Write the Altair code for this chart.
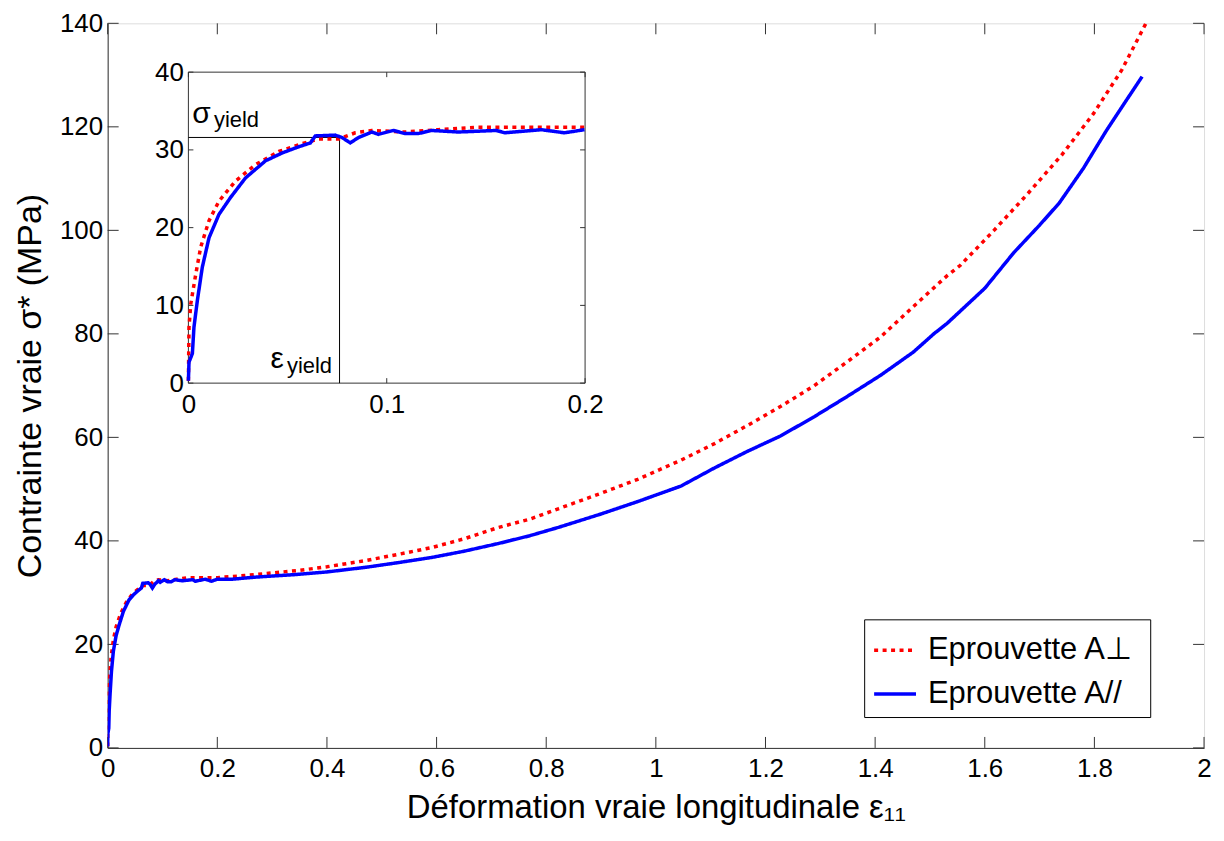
import altair as alt
import pandas as pd

# ---------------- data ----------------
series_names = ["Eprouvette  A⊥", "Eprouvette  A//"]

eps_perp = [0.0, 0.0003, 0.0012, 0.0037, 0.0062, 0.0104, 0.0154, 0.0238, 0.0338, 0.0456,
            0.0573, 0.0657, 0.0757, 0.0841, 0.0925, 0.1092, 0.126, 0.146, 0.1678, 0.1846,
            0.1997, 0.25, 0.349, 0.40, 0.471, 0.53, 0.591, 0.65, 0.713, 0.77,
            0.822, 0.90, 0.967, 1.046, 1.107, 1.167, 1.228, 1.289, 1.349, 1.41,
            1.47, 1.531, 1.555, 1.616, 1.676, 1.74, 1.798, 1.85, 1.894]
sig_perp = [0.3, 7.2, 10.2, 14.0, 17.5, 20.9, 23.4, 26.0, 28.1, 29.8,
            30.8, 31.4, 31.4, 32.2, 32.5, 32.3, 32.6, 32.9, 32.9, 32.9,
            32.9, 33.3, 34.3, 35.0, 36.2, 37.4, 38.7, 40.4, 42.6, 44.2,
            46.2, 49.2, 51.9, 55.6, 58.8, 62.3, 66.0, 70.0, 74.6, 79.4,
            85.3, 91.2, 93.2, 99.9, 106.8, 114.5, 122.5, 131.0, 140.0]

eps_par = [0.0, 0.0003, 0.002, 0.0028, 0.0045, 0.007, 0.0104, 0.0154, 0.0213, 0.0288,
           0.0389, 0.0472, 0.0556, 0.0615, 0.064, 0.074, 0.0774, 0.0816, 0.0858, 0.0925,
           0.0958, 0.1034, 0.1092, 0.1159, 0.1226, 0.136, 0.1553, 0.1595, 0.1779, 0.1896,
           0.1997, 0.227, 0.27, 0.343, 0.40, 0.471, 0.53, 0.591, 0.65, 0.713,
           0.77, 0.822, 0.90, 0.967, 1.046, 1.107, 1.167, 1.228, 1.289, 1.349,
           1.41, 1.47, 1.507, 1.531, 1.60, 1.653, 1.70, 1.736, 1.78, 1.822,
           1.86, 1.887]
sig_par = [0.3, 2.7, 3.8, 7.2, 10.6, 14.9, 18.7, 21.7, 23.9, 26.4,
           28.6, 29.6, 30.4, 30.9, 31.8, 31.9, 31.6, 30.9, 31.6, 32.3,
           32.0, 32.5, 32.1, 32.1, 32.5, 32.3, 32.5, 32.2, 32.6, 32.2,
           32.6, 32.6, 33.0, 33.5, 34.0, 34.9, 35.8, 36.8, 38.0, 39.5,
           41.0, 42.6, 45.2, 47.6, 50.6, 54.1, 57.3, 60.3, 64.0, 67.9,
           72.0, 76.5, 80.0, 82.0, 88.8, 95.7, 101.0, 105.3, 112.0, 119.3,
           125.4, 129.7]

x_ticks_main = [0, 0.2, 0.4, 0.6, 0.8, 1, 1.2, 1.4, 1.6, 1.8, 2]
y_ticks_main = [0, 20, 40, 60, 80, 100, 120, 140]
x_ticks_inset = [0, 0.1, 0.2]
y_ticks_inset = [0, 10, 20, 30, 40]

eps_yield = 0.0762
sig_yield = 31.6

# annotation texts in the inset (data coordinates of the inset)
big_txt = ["σ", "ε"]
big_eps = [0.0020, 0.0414]
big_sig = [33.5, 1.9]
sub_txt = ["yield", "yield"]
sub_eps = [0.0129, 0.0497]
sub_sig = [32.9, 1.3]

# ---------------- layout / style ----------------
W, H = 1100, 727
PAD_TOP = 14
TICK = 11
IN_X0, IN_X1 = 81, 479                  # inset frame in plot pixels
IN_Y0, IN_Y1 = 383 - 8 - PAD_TOP, 71 - 8 - PAD_TOP   # inset bottom / top
ITICK = 5
LEG_X, LEG_Y = 759, 620 - 8 - PAD_TOP
FONT = "Liberation Sans, Arial, Helvetica, sans-serif"
AX = "#333333"
RED, BLUE = "#FF0000", "#0000FF"

df = pd.DataFrame({
    "eps": eps_perp + eps_par,
    "sig": sig_perp + sig_par,
    "serie": [series_names[0]] * len(eps_perp) + [series_names[1]] * len(eps_par),
})


def make_legend():
    return alt.Legend(orient="none", legendX=LEG_X, legendY=LEG_Y, title=None,
                      strokeColor="black", fillColor="white", padding=8,
                      labelFont=FONT, labelFontSize=31, labelColor="black",
                      symbolType="stroke", symbolSize=1764, symbolStrokeWidth=3.5,
                      labelOffset=10, rowPadding=6, labelLimit=500)


color_enc = alt.Color("serie:N", scale=alt.Scale(domain=series_names, range=[RED, BLUE]),
                      legend=make_legend())
dash_enc = alt.StrokeDash("serie:N", scale=alt.Scale(domain=series_names, range=[[4, 4.5], [1, 0]]),
                          legend=make_legend())

x_main = alt.X("eps:Q", scale=alt.Scale(domain=[0, 2], nice=False, zero=False),
               axis=alt.Axis(values=x_ticks_main, format="~g", tickSize=0, grid=False,
                             domainColor=AX, labelFont=FONT, labelFontSize=26, labelColor="black",
                             labelPadding=8, labelFlush=False, labelOverlap=False,
                             title="Déformation vraie longitudinale ε₁₁", titleFont=FONT,
                             titleFontSize=33, titleFontWeight="normal", titleColor="black",
                             titlePadding=10))
y_main = alt.Y("sig:Q", scale=alt.Scale(domain=[0, 140], nice=False, zero=False),
               axis=alt.Axis(values=y_ticks_main, tickSize=0, grid=False,
                             domainColor=AX, labelFont=FONT, labelFontSize=26, labelColor="black",
                             labelPadding=5, labelOverlap=False,
                             title="Contrainte vraie σ* (MPa)", titleFont=FONT,
                             titleFontSize=34, titleFontWeight="normal", titleColor="black",
                             titlePadding=12))

lines_main = alt.Chart(df).mark_line(strokeWidth=3.5, clip=True, strokeCap="butt").encode(
    x=x_main, y=y_main, color=color_enc, strokeDash=dash_enc, order="eps:Q")

xt = pd.DataFrame({"eps": x_ticks_main})
yt = pd.DataFrame({"sig": y_ticks_main})
tick_b = alt.Chart(xt).mark_rule(color=AX).encode(x=x_main, y=alt.value(H), y2=alt.value(H - TICK))
tick_t = alt.Chart(xt).mark_rule(color=AX).encode(x=x_main, y=alt.value(0), y2=alt.value(TICK))
tick_l = alt.Chart(yt).mark_rule(color=AX).encode(y=y_main, x=alt.value(0), x2=alt.value(TICK))
tick_r = alt.Chart(yt).mark_rule(color=AX).encode(y=y_main, x=alt.value(W), x2=alt.value(W - TICK))

main = alt.layer(tick_b, tick_t, tick_l, tick_r, lines_main)

# ---------------- inset ----------------
x_in = alt.X("eps:Q", scale=alt.Scale(domain=[0, 0.2], range=[IN_X0, IN_X1], nice=False, zero=False),
             axis=alt.Axis(orient="bottom", offset=-(H - IN_Y0), values=x_ticks_inset, format="~g",
                           tickSize=0, domain=False, grid=False, labelFont=FONT, labelFontSize=26,
                           labelColor="black", labelPadding=8, labelFlush=False, labelOverlap=False,
                           title=None))
y_in = alt.Y("sig:Q", scale=alt.Scale(domain=[0, 40], range=[IN_Y0, IN_Y1], nice=False, zero=False),
             axis=alt.Axis(orient="left", offset=-IN_X0, values=y_ticks_inset, tickSize=0,
                           domain=False, grid=False, labelFont=FONT, labelFontSize=26,
                           labelColor="black", labelPadding=5, labelOverlap=False, title=None))

frame_df = pd.DataFrame({"eps": [x_ticks_inset[0]], "eps2": [x_ticks_inset[-1]],
                         "sig": [y_ticks_inset[0]], "sig2": [y_ticks_inset[-1]]})
frame = alt.Chart(frame_df).mark_rect(fill="white", stroke=AX, strokeWidth=1).encode(
    x=x_in, x2="eps2:Q", y=y_in, y2="sig2:Q")

ixt = pd.DataFrame({"eps": x_ticks_inset})
iyt = pd.DataFrame({"sig": y_ticks_inset})
itick_b = alt.Chart(ixt).mark_rule(color=AX).encode(x=x_in, y=alt.value(IN_Y0), y2=alt.value(IN_Y0 - ITICK))
itick_t = alt.Chart(ixt).mark_rule(color=AX).encode(x=x_in, y=alt.value(IN_Y1), y2=alt.value(IN_Y1 + ITICK))
itick_l = alt.Chart(iyt).mark_rule(color=AX).encode(y=y_in, x=alt.value(IN_X0), x2=alt.value(IN_X0 + ITICK))
itick_r = alt.Chart(iyt).mark_rule(color=AX).encode(y=y_in, x=alt.value(IN_X1), x2=alt.value(IN_X1 - ITICK))

yield_df = pd.DataFrame({"eps": [0, eps_yield], "eps2": [eps_yield, eps_yield],
                         "sig": [sig_yield, 0], "sig2": [sig_yield, sig_yield]})
yield_lines = alt.Chart(yield_df).mark_rule(color="black", strokeWidth=1).encode(
    x=x_in, x2="eps2:Q", y=y_in, y2="sig2:Q")

lines_in = alt.Chart(df).transform_filter(alt.datum.eps <= 0.2).mark_line(
    strokeWidth=3.5, strokeCap="butt").encode(
    x=x_in, y=y_in,
    color=alt.Color("serie:N", scale=alt.Scale(domain=series_names, range=[RED, BLUE]), legend=None),
    strokeDash=alt.StrokeDash("serie:N", scale=alt.Scale(domain=series_names, range=[[4, 4.5], [1, 0]]),
                              legend=None),
    order="eps:Q")

big_df = pd.DataFrame({"eps": big_eps, "sig": big_sig, "t": big_txt})
sub_df = pd.DataFrame({"eps": sub_eps, "sig": sub_sig, "t": sub_txt})
big_text = alt.Chart(big_df).mark_text(font=FONT, fontSize=30, align="left", baseline="alphabetic",
                                        color="black").encode(x=x_in, y=y_in, text="t:N")
sub_text = alt.Chart(sub_df).mark_text(font=FONT, fontSize=22, align="left", baseline="alphabetic",
                                        color="black").encode(x=x_in, y=y_in, text="t:N")

inset = alt.layer(frame, itick_b, itick_t, itick_l, itick_r, yield_lines, lines_in, big_text, sub_text)

chart = alt.layer(main, inset).resolve_scale(
    x="independent", y="independent"
).properties(
    width=W, height=H,
    autosize=alt.AutoSizeParams(type="none"),
    padding={"left": 100, "top": PAD_TOP, "right": 12, "bottom": 85},
).configure_view(stroke=AX, strokeWidth=1).configure(background="white")

chart.save("out.html", embed_options={"renderer": "svg", "actions": False})
